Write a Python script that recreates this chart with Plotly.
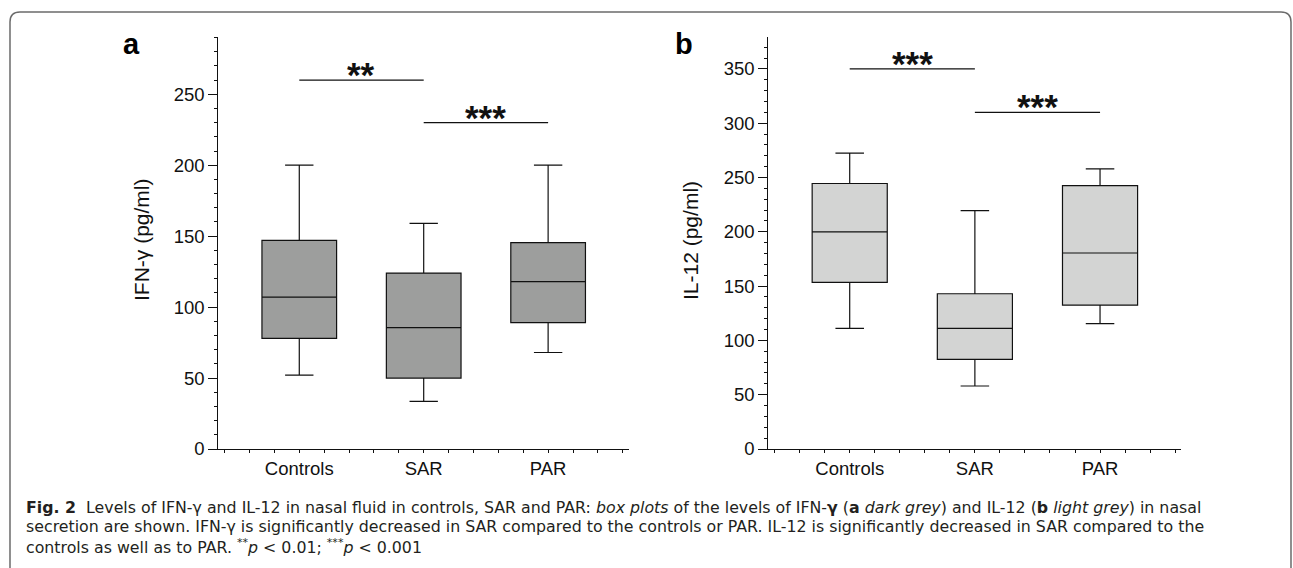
import plotly.graph_objects as go

W, H = 1293, 568

categories = ["Controls", "SAR", "PAR"]
cat_pos = [0, 1, 2]

# Panel a: IFN-gamma (pg/ml)
ifn_low = [52, 33.5, 68]
ifn_q1 = [78, 50, 89]
ifn_med = [107, 85.5, 118]
ifn_q3 = [147, 124, 145.5]
ifn_high = [200, 159, 200]

# Panel b: IL-12 (pg/ml)
il12_low = [111, 58, 115.5]
il12_q1 = [153.5, 82.5, 132.5]
il12_med = [200, 111, 180.5]
il12_q3 = [244.5, 143, 242.5]
il12_high = [272.5, 219.5, 258]

# significance brackets: (from, to, y, label)
sig_a = [(0, 1, 260, "**"), (1, 2, 230, "***")]
sig_b = [(0, 1, 350, "***"), (1, 2, 310, "***")]

yticks_a = [0, 50, 100, 150, 200, 250]
yticks_b = [0, 50, 100, 150, 200, 250, 300, 350]

FONT = "Arial, 'Liberation Sans', sans-serif"
DARK = "#9d9e9d"
LIGHT = "#d3d4d3"


def px_x(x):
    return x / W


def px_y(y):
    return 1 - y / H


fig = go.Figure()

for q1, med, q3, lo, hi, fill, xa, ya in [
    (ifn_q1, ifn_med, ifn_q3, ifn_low, ifn_high, DARK, "x", "y"),
    (il12_q1, il12_med, il12_q3, il12_low, il12_high, LIGHT, "x2", "y2"),
]:
    fig.add_trace(go.Box(
        x=cat_pos, q1=q1, median=med, q3=q3, lowerfence=lo, upperfence=hi,
        fillcolor=fill, line=dict(color="#111111", width=1.2),
        width=0.6, whiskerwidth=0.38, boxpoints=False,
        xaxis=xa, yaxis=ya, showlegend=False, hoverinfo="skip",
    ))

ydom = [px_y(449), px_y(36.5)]
axis_common = dict(
    showline=True, linecolor="#111111", linewidth=1.2, showgrid=False,
    zeroline=False, tickfont=dict(family=FONT, size=18.5, color="#111111"),
    automargin=False,
)

fig.update_layout(
    template="none",
    width=W, height=H,
    margin=dict(l=0, r=0, t=0, b=0),
    paper_bgcolor="white", plot_bgcolor="white",
    xaxis=dict(domain=[px_x(218.4), px_x(629)], range=[-0.65, 2.65],
               tickvals=cat_pos, ticktext=categories, ticks="outside",
               ticklen=3, tickcolor="#111111",
               minor=dict(dtick=0.2, tick0=0, ticks="outside", ticklen=3,
                          tickcolor="#111111"),
               anchor="y", **axis_common),
    yaxis=dict(domain=ydom, range=[0, 290.7], tickvals=yticks_a,
               ticks="outside", ticklen=9, tickcolor="#111111",
               minor=dict(dtick=10, ticks="outside", ticklen=3,
                          tickcolor="#111111"),
               anchor="x", **axis_common),
    xaxis2=dict(domain=[px_x(768.35), px_x(1181.4)], range=[-0.65, 2.65],
                tickvals=cat_pos, ticktext=categories, ticks="outside",
                ticklen=3, tickcolor="#111111",
                minor=dict(dtick=0.2, tick0=0, ticks="outside", ticklen=3,
                           tickcolor="#111111"),
                anchor="y2", **axis_common),
    yaxis2=dict(domain=ydom, range=[0, 379.9], tickvals=yticks_b,
                ticks="outside", ticklen=9, tickcolor="#111111",
                minor=dict(dtick=10, ticks="outside", ticklen=3,
                           tickcolor="#111111"),
                anchor="x2", **axis_common),
)

shapes = []
annotations = []

for sig, xa, ya in [(sig_a, "x", "y"), (sig_b, "x2", "y2")]:
    for x0, x1, yv, lab in sig:
        shapes.append(dict(type="line", xref=xa, yref=ya, x0=x0, x1=x1,
                           y0=yv, y1=yv, line=dict(color="#111111", width=1.3)))
        annotations.append(dict(xref=xa, yref=ya, x=(x0 + x1) / 2, y=yv,
                                text="<b>" + lab + "</b>", showarrow=False,
                                yanchor="bottom", yshift=-16,
                                font=dict(family=FONT, size=35, color="#111111")))

# y-axis titles
annotations.append(dict(xref="paper", yref="paper", x=px_x(141), y=px_y(240),
                        text="IFN-\u03b3 (pg/ml)", textangle=-90, showarrow=False,
                        xanchor="center", yanchor="middle",
                        font=dict(family=FONT, size=21, color="#111111")))
annotations.append(dict(xref="paper", yref="paper", x=px_x(690), y=px_y(240),
                        text="IL-12 (pg/ml)", textangle=-90, showarrow=False,
                        xanchor="center", yanchor="middle",
                        font=dict(family=FONT, size=21, color="#111111")))

# panel letters
annotations.append(dict(xref="paper", yref="paper", x=px_x(131.5), y=px_y(44),
                        text="<b>a</b>", showarrow=False,
                        xanchor="center", yanchor="middle",
                        font=dict(family=FONT, size=29, color="#000000")))
annotations.append(dict(xref="paper", yref="paper", x=px_x(684), y=px_y(44),
                        text="<b>b</b>", showarrow=False,
                        xanchor="center", yanchor="middle",
                        font=dict(family=FONT, size=29, color="#000000")))

# caption
CAP_FONT = "'DejaVu Sans', sans-serif"
caption_lines = [
    "<b>Fig. 2</b>  Levels of IFN-\u03b3 and IL-12 in nasal fluid in controls, SAR and PAR: "
    "<i>box plots</i> of the levels of IFN-<b>\u03b3</b> (<b>a</b> <i>dark grey</i>) and IL-12 "
    "(<b>b</b> <i>light grey</i>) in nasal",
    "secretion are shown. IFN-\u03b3 is significantly decreased in SAR compared to the "
    "controls or PAR. IL-12 is significantly decreased in SAR compared to the",
    "controls as well as to PAR. <sup>**</sup><i>p</i> &lt; 0.01; "
    "<sup>***</sup><i>p</i> &lt; 0.001",
]
cap_y = [507, 526.5, 546]
for txt, yy in zip(caption_lines, cap_y):
    annotations.append(dict(xref="paper", yref="paper", x=px_x(24), y=px_y(yy),
                            text=txt, showarrow=False, xanchor="left",
                            yanchor="middle", align="left",
                            font=dict(family=CAP_FONT, size=15.8, color="#231f20")))

# rounded frame
def P(x, y):
    return f"{px_x(x):.5f},{px_y(y):.5f}"

frame_path = (f"M {P(10, 570)} L {P(10, 22)} Q {P(10, 12)} {P(20, 12)} "
              f"L {P(1281, 12)} Q {P(1291, 12)} {P(1291, 22)} L {P(1291, 570)}")
shapes.append(dict(type="path", xref="paper", yref="paper", path=frame_path,
                   line=dict(color="#6b6b6b", width=1.5)))

fig.update_layout(shapes=shapes, annotations=annotations)

fig.write_html("out.html")
